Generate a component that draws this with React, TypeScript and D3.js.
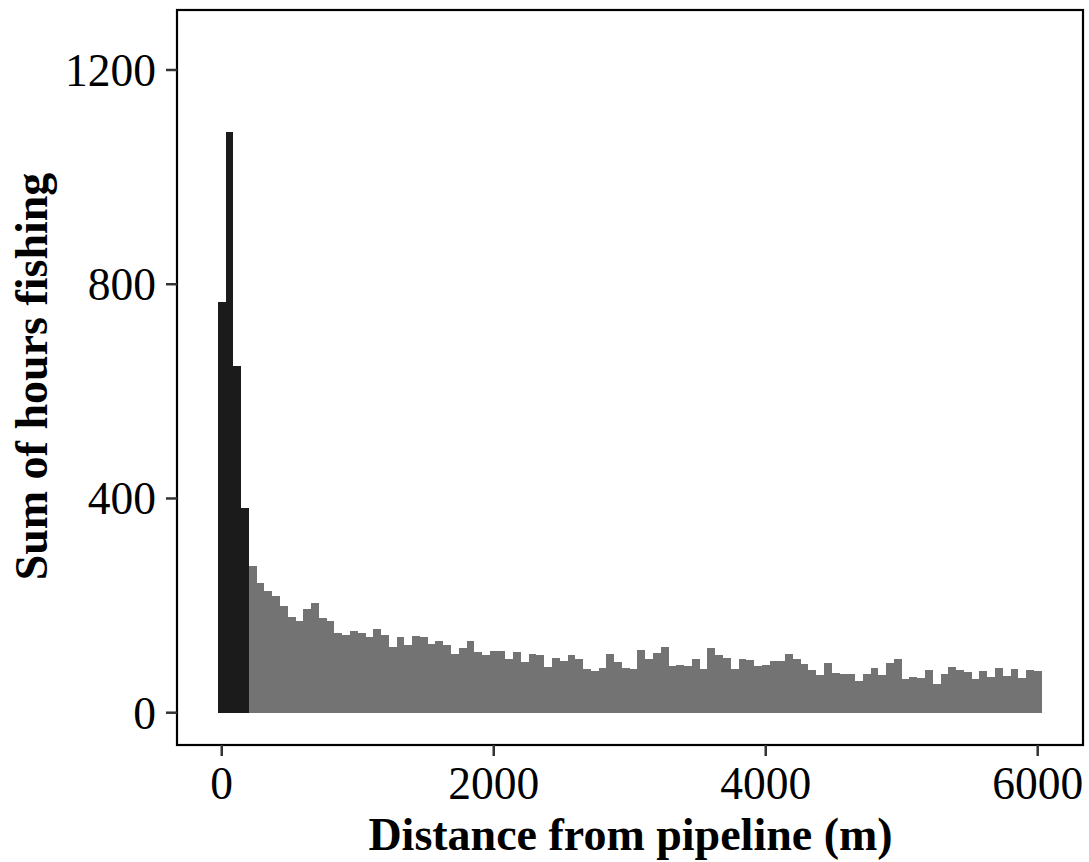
import { scaleLinear } from "d3";

// bins are 6000/105 m wide, centred on 0, 57.1, ..., 6000
const binCount = 106;
const binMax = 6000;
const nearValues = [767, 1084, 647, 382];
const farValues = [
  274, 243, 227, 217, 199, 178, 172, 194, 205, 177, 172, 148, 146, 152, 149, 141, 156, 146, 122, 141, 127, 143, 141, 129, 134, 126, 110,
  120, 134, 113, 108, 116, 116, 100, 113, 94, 110, 108, 86, 103, 96, 108, 101, 82, 78, 83, 110, 95, 84, 82, 118, 100, 111, 122,
  87, 89, 87, 101, 81, 121, 108, 103, 81, 100, 98, 87, 89, 96, 96, 110, 101, 91, 80, 70, 92, 75, 72, 72, 60,
  72, 84, 70, 92, 100, 62, 66, 64, 79, 54, 73, 85, 80, 76, 62, 77, 67, 84, 68, 82, 65, 79, 77,
];
const xTicks = [0, 2000, 4000, 6000];
const yTicks = [0, 400, 800, 1200];

const W = 1089;
const H = 862;
const panel = { left: 177, right: 1083, top: 10, bottom: 745 };

export default function App() {
  const binWidth = binMax / (binCount - 1);
  const bins = [...nearValues, ...farValues].map((v, i) => ({
    x0: i * binWidth - binWidth / 2,
    x1: i * binWidth + binWidth / 2,
    v,
    near: i < nearValues.length,
  }));

  const x = scaleLinear().domain([-329, 6333]).range([panel.left, panel.right]);
  const y = scaleLinear().domain([-60.3, 1312]).range([panel.bottom, panel.top]);

  const font = "'Liberation Serif', 'Times New Roman', serif";

  return (
    <>
      <style>{`body{margin:0}`}</style>
      <svg width={W} height={H} style={{ display: "block", background: "#fff" }}>
        <g>
          {bins.map((b, i) => (
            <rect
              key={i}
              x={x(b.x0)}
              width={x(b.x1) - x(b.x0)}
              y={y(b.v)}
              height={y(0) - y(b.v)}
              fill={b.near ? "#1b1b1b" : "#737373"}
              shapeRendering="crispEdges"
            />
          ))}
        </g>
        <rect
          x={panel.left}
          y={panel.top}
          width={panel.right - panel.left}
          height={panel.bottom - panel.top}
          fill="none"
          stroke="#000"
          strokeWidth={2.2}
        />
        {yTicks.map((t) => (
          <g key={t}>
            <line x1={panel.left - 11} x2={panel.left} y1={y(t)} y2={y(t)} stroke="#333" strokeWidth={2.5} />
            <text
              x={panel.left - 21}
              y={y(t)}
              dy="0.35em"
              textAnchor="end"
              fontFamily={font}
              fontSize={45.5}
              fill="#000"
            >
              {t}
            </text>
          </g>
        ))}
        {xTicks.map((t) => (
          <g key={t}>
            <line x1={x(t)} x2={x(t)} y1={panel.bottom} y2={panel.bottom + 11} stroke="#333" strokeWidth={2.5} />
            <text x={x(t)} y={799} textAnchor="middle" fontFamily={font} fontSize={45.5} fill="#000">
              {t}
            </text>
          </g>
        ))}
        <text
          x={(panel.left + panel.right) / 2 + 0.5}
          y={850}
          textAnchor="middle"
          fontFamily={font}
          fontWeight="bold"
          fontSize={46}
          fill="#000"
        >
          Distance from pipeline (m)
        </text>
        <text
          transform={`translate(47, ${(panel.top + panel.bottom) / 2 - 1}) rotate(-90)`}
          textAnchor="middle"
          fontFamily={font}
          fontWeight="bold"
          fontSize={46}
          fill="#000"
        >
          Sum of hours fishing
        </text>
      </svg>
    </>
  );
}
